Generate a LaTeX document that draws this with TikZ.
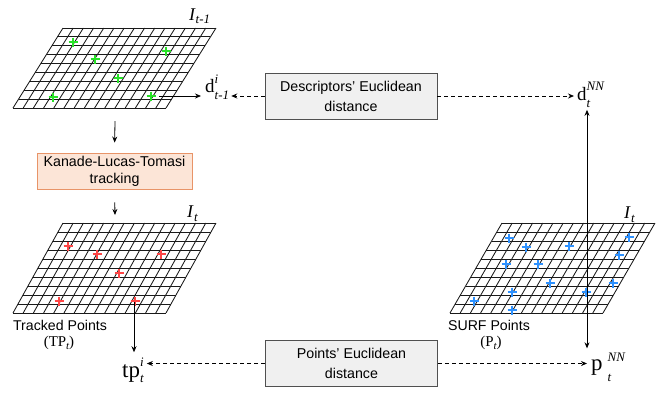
\documentclass[tikz,border=0pt]{standalone}
\usepackage{fontspec}
\setmainfont{Liberation Sans}
\newfontfamily\serifx{Liberation Serif}
\usetikzlibrary{arrows.meta}
\definecolor{kltfill}{RGB}{252,229,215}
\definecolor{kltdraw}{RGB}{232,148,104}
\definecolor{boxfill}{RGB}{240,240,240}
\definecolor{boxdraw}{RGB}{80,80,80}
\definecolor{gpt}{RGB}{40,225,40}
\definecolor{rpt}{RGB}{255,70,70}
\definecolor{bpt}{RGB}{45,145,255}
% base, sup, sub, raise, drop, gap
\newcommand\lblx[6]{#1\hspace{#6}{\fontsize{13}{13}\selectfont\itshape\setbox0\hbox{\raisebox{#4}{#2}}\setbox2\hbox{\raisebox{-#5}{#3}}\ifdim\wd0>\wd2 \rlap{\box2}\box0\else\rlap{\box0}\box2\fi}}
\newcommand\gridx[7]{%
  \foreach \i in {0,...,#6} \draw[gridline] ({#1+#3*\i/#6},#2) -- ({#1+#5+#3*\i/#6},{#2-#4});
  \foreach \j in {0,...,#7} \draw[gridline] ({#1+#5*\j/#7},{#2-#4*\j/#7}) -- ({#1+#5*\j/#7+#3},{#2-#4*\j/#7});
}
\tikzset{
  gridline/.style={line width=0.85bp, black!90},
  crossmark/.style={line width=2bp},
  box/.style={draw=boxdraw, fill=boxfill, line width=0.9bp, minimum width=172bp, minimum height=46bp, align=center, inner sep=0pt, font=\fontsize{14.3}{20}\selectfont},
  kltbox/.style={draw=kltdraw, fill=kltfill, line width=0.9bp, minimum width=155bp, minimum height=36bp, align=center, inner sep=0pt, font=\fontsize{14.3}{16.8}\selectfont},
  lbl/.style={inner sep=0pt, font=\serifx\fontsize{19}{19}\selectfont, anchor=base west},
  lblbig/.style={inner sep=0pt, font=\serifx\fontsize{23}{23}\selectfont, anchor=base west},
  ilbl/.style={inner sep=0pt, font=\serifx\itshape\fontsize{18}{18}\selectfont, anchor=base west},
  captxt/.style={inner sep=0pt, font=\fontsize{14.2}{16}\selectfont, anchor=base},
  capser/.style={inner sep=0pt, font=\serifx\fontsize{15}{15}\selectfont, anchor=base},
  arr/.style={line width=0.8bp, -{Stealth[length=6bp,width=5bp]}},
  darr/.style={line width=0.8bp, dash pattern=on 4bp off 3bp, -{Stealth[length=6bp,width=5bp]}},
}
\newcommand\crs[3]{\draw[crossmark,#3] (#1-4.5,#2) -- (#1+4.5,#2) (#1,#2-4.5) -- (#1,#2+4.5);}
\begin{document}
\begin{tikzpicture}[x=1bp,y=-1bp]
\useasboundingbox (0,0) rectangle (660,393);
% grids
\gridx{13}{108}{153}{80}{50}{15}{9}
\gridx{13}{313}{153}{90}{50}{15}{10}
\gridx{450}{313}{153}{90}{52}{15}{10}
% green crosses
\crs{73}{42}{gpt}\crs{166}{51}{gpt}\crs{95}{59}{gpt}\crs{118}{78}{gpt}\crs{53}{97}{gpt}\crs{151}{96}{gpt}
% red crosses
\crs{68}{246}{rpt}\crs{97}{254}{rpt}\crs{161}{254}{rpt}\crs{119}{273}{rpt}\crs{59}{301}{rpt}\crs{135}{301}{rpt}
% blue crosses
\crs{509}{238}{bpt}\crs{629}{237}{bpt}\crs{526}{247}{bpt}\crs{569}{246}{bpt}\crs{619}{255}{bpt}
\crs{506}{264}{bpt}\crs{538}{264}{bpt}\crs{550}{283}{bpt}\crs{613}{283}{bpt}\crs{512}{292}{bpt}
\crs{586}{292}{bpt}\crs{474}{301}{bpt}\crs{512}{310}{bpt}
% coordinates
\coordinate (gc) at (159,96);
\coordinate (rc) at (134,302);
\coordinate (bc) at (587,292);
\coordinate (g1) at (115,121);
\coordinate (g2) at (115,215);
% image labels
\node[ilbl] (I1) at (189,20.5) {\lblx{I}{}{t-1}{0pt}{3bp}{0.5bp}};
\node[ilbl] (I2) at (187,217) {\lblx{I}{}{t}{0pt}{4bp}{1bp}};
\node[ilbl] (I3) at (624,218) {\lblx{I}{}{t}{0pt}{4bp}{1bp}};
% boxes
\node[kltbox] (klt) at (114.5,171) {Kanade-Lucas-Tomasi\\tracking};
\node[box] (desc) at (351,96) {Descriptors' Euclidean\\distance};
\node[box] (pts) at (351.5,363.5) {Points' Euclidean\\distance};
% point labels
\node[lbl] (dprev) at (205,92) {\lblx{d}{i}{t-1}{8.5bp}{7bp}{0pt}};
\node[lbl] (dnn) at (577,100) {\lblx{d}{NN}{t}{9.5bp}{7.5bp}{0pt}};
\node[lblbig] (tp) at (122,377) {\lblx{tp}{i}{t}{11bp}{5.5bp}{0pt}};
\node[lblbig] (pnn) at (591,370) {\lblx{p}{NN}{t}{9bp}{11bp}{5bp}};
% captions
\node[captxt] (c1) at (60,330) {Tracked Points};
\node[capser] (c1b) at (59,346) {(TP\raisebox{-3bp}{\fontsize{11}{11}\selectfont\itshape t})};
\node[captxt] (c2) at (489,330) {SURF Points};
\node[capser] (c2b) at (491,346) {(P\raisebox{-3bp}{\fontsize{11}{11}\selectfont\itshape t})};
% connectors
\draw[arr, shorten >=10bp] (g1) -- (klt.north);
\draw[arr, shorten <=13bp] (klt.south) -- (g2);
\draw[arr, shorten >=4bp] (gc) -- (dprev.west |- gc);
\draw[darr, shorten >=2bp] (desc.west |- gc) -- (dprev.east |- gc);
\draw[darr, shorten >=3bp] (desc.east |- gc) -- (dnn.west |- gc);
\draw[arr, shorten >=2bp] (bc) -- (bc |- dnn.south);
\draw[arr, shorten >=4bp] (bc) -- (bc |- pnn.north);
\draw[arr, shorten >=5bp] (rc) -- (rc |- tp.north);
\draw[darr, shorten >=3bp] (pts.west) -- (tp.east |- pts.west);
\draw[darr] (pts.east) -- (bc |- pts.east);
\end{tikzpicture}
\end{document}
